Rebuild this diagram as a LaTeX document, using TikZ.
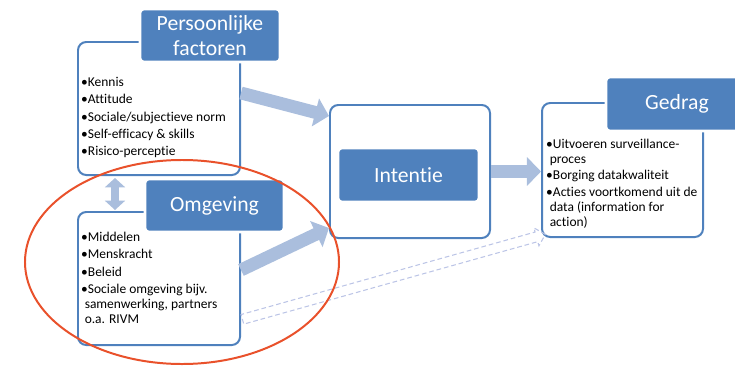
\documentclass[tikz,border=0pt]{standalone}
\usepackage{fontspec}
\setmainfont{Carlito}[Ligatures=NoCommon]
\usetikzlibrary{arrows.meta,calc,shapes.arrows}
\definecolor{kaderblauw}{HTML}{4F81BD}
\definecolor{pijlblauw}{HTML}{AABEDD}
\definecolor{stippelblauw}{HTML}{BCC5E6}
\definecolor{ovaalrood}{HTML}{E9512B}
\tikzset{
	kader/.style={draw=kaderblauw, line width=1.7pt, fill=white, rounded corners=7pt, minimum width=4.86cm, minimum height=3.99cm},
	kop/.style={draw=white, line width=2.5pt, fill=kaderblauw, rounded corners=3pt, text=white, font=\fontsize{18.5}{21.5}\selectfont, align=center, inner sep=0pt},
	lijst/.style={anchor=north west, align=left, inner sep=0pt, font=\fontsize{11.5}{12.8}\selectfont},
	blokpijl/.style={draw=pijlblauw, line width=11pt, -{Triangle[length=12pt,width=24pt]}},
	dubbelpijl/.style={draw=pijlblauw, line width=7pt, {Triangle[length=8pt,width=17pt]}-{Triangle[length=8pt,width=17pt]}},
	holpijl/.style={single arrow, draw=stippelblauw, line width=.9pt, dash pattern=on 4pt off 2.5pt, inner xsep=0pt, inner ysep=3.8pt, single arrow head extend=3.7pt},
	ovaal/.style={draw=ovaalrood, line width=1.7pt}
}
\begin{document}
\begin{tikzpicture}[x=0.03cm, y=-0.03cm]
	\useasboundingbox (0,0) rectangle (735,368);
	\node[kader] (pers) at (159,108.5) {};
	\node[kader] (omg) at (159,278.5) {};
	\node[kader, minimum width=4.8cm] (int) at (410,171.5) {};
	\node[kader, minimum width=4.83cm, minimum height=4.02cm] (ged) at (622.5,170) {};
	\node[kop, minimum width=4.2cm, minimum height=1.59cm] (perskop) at (210,35.5) {Persoonlijke\\factoren};
	\node[kop, minimum width=4.17cm, minimum height=1.59cm] (omgkop) at (214.5,205.5) {Omgeving};
	\node[kop, minimum width=4.23cm, minimum height=1.62cm] (intkop) at (408.5,175) {Intentie};
	\node[kop, minimum width=4.26cm, minimum height=1.62cm] (gedkop) at (677,104) {Gedrag};
	\node[lijst] (perslijst) at (81,77) {•Kennis\\[2pt]•Attitude\\[2pt]•Sociale/subjectieve norm\\[2pt]•Self-efficacy \& skills\\[2pt]•Risico-perceptie};
	\node[lijst] (omglijst) at (81,231.5) {•Middelen\\[2.2pt]•Menskracht\\[2.2pt]•Beleid\\[2.2pt]•Sociale omgeving bijv.\\\hspace*{3pt}samenwerking, partners\\\hspace*{3pt}o.a. RIVM};
	\node[lijst] (gedlijst) at (546,138.5) {•Uitvoeren surveillance-\\\hspace*{3pt}proces\\[1.5pt]•Borging datakwaliteit\\[1.5pt]•Acties voortkomend uit de\\\hspace*{3pt}data (information for\\\hspace*{3pt}action)};
	\coordinate (p1) at ([yshift=.465cm]pers.east);
	\coordinate (i1) at ([yshift=1.665cm]int.west);
	\coordinate (o1) at ([yshift=.255cm]omg.east);
	\coordinate (i2) at ([yshift=-1.695cm]int.west);
	\coordinate (v1) at (115,178);
	\coordinate (v2) at (115,210);
	\coordinate (d1) at (240,320);
	\coordinate (d2) at (543,235);
	\draw[blokpijl] (p1) -- (i1);
	\draw[blokpijl] (o1) -- (i2);
	\draw[blokpijl] (int.east) -- (int.east -| ged.west);
	\draw[dubbelpijl] (v1) -- (v2);
	\path let \p1=($(d2)-(d1)$) in node[holpijl, minimum height={veclen(\x1,\y1)}, rotate={atan2(\y1,\x1)}] (planpijl) at ($(d1)!.5!(d2)$) {};
	\draw[ovaal] (182,262) ellipse [x radius=4.71cm, y radius=3.06cm];
\end{tikzpicture}
\end{document}
